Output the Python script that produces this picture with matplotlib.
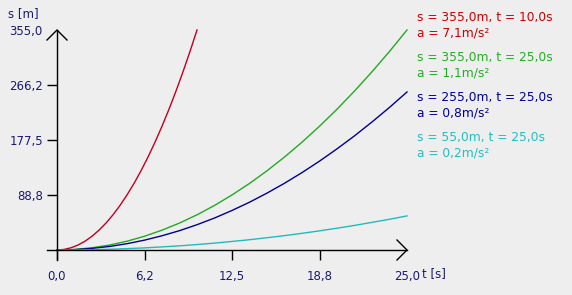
import matplotlib.pyplot as plt

# values (t in s, s in m)
t_red = [0, 0.5, 1, 1.5, 2, 2.5, 3, 3.5, 4, 4.5, 5, 5.5, 6, 6.5, 7, 7.5, 8, 8.5, 9, 9.5, 10]
s_red = [0, 0.9, 3.6, 8, 14.2, 22.2, 32, 43.5, 56.8, 71.9, 88.8, 107.4, 127.8, 150, 174,
         199.7, 227.2, 256.5, 287.6, 320.4, 355]
t_long = [0, 1.25, 2.5, 3.75, 5, 6.25, 7.5, 8.75, 10, 11.25, 12.5, 13.75, 15, 16.25, 17.5,
          18.75, 20, 21.25, 22.5, 23.75, 25]
s_green = [0, 0.9, 3.6, 8, 14.2, 22.2, 32, 43.5, 56.8, 71.9, 88.8, 107.4, 127.8, 150, 174,
           199.7, 227.2, 256.5, 287.6, 320.4, 355]
s_blue = [0, 0.6, 2.6, 5.7, 10.2, 15.9, 23, 31.2, 40.8, 51.6, 63.8, 77.1, 91.8, 107.7, 124.9,
          143.4, 163.2, 184.2, 206.6, 230.1, 255]
s_cyan = [0, 0.1, 0.6, 1.2, 2.2, 3.4, 5, 6.7, 8.8, 11.1, 13.8, 16.6, 19.8, 23.2, 26.9,
          30.9, 35.2, 39.7, 44.6, 49.6, 55]

xticks = [0, 6.25, 12.5, 18.75, 25]
xlabels = ["0,0", "6,2", "12,5", "18,8", "25,0"]
yticks = [88.75, 177.5, 266.25, 355]
ylabels = ["88,8", "177,5", "266,2", "355,0"]

legend = [
    ("s = 355,0m, t = 10,0s", "a = 7,1m/s²", "#cc0000"),
    ("s = 355,0m, t = 25,0s", "a = 1,1m/s²", "#22b022"),
    ("s = 255,0m, t = 25,0s", "a = 0,8m/s²", "#000099"),
    ("s = 55,0m, t = 25,0s", "a = 0,2m/s²", "#22c0c0"),
]

bg = "#eeeeee"
navy = "#1a1a70"

fig = plt.figure(figsize=(5.72, 2.95), dpi=100, facecolor=bg)
ax = fig.add_axes([57 / 572, 45 / 295, 350 / 572, 220 / 295], facecolor=bg)

ax.plot(t_red, s_red, color="#c00020", lw=1, clip_on=False)
ax.plot(t_long, s_green, color="#22aa22", lw=1, clip_on=False)
ax.plot(t_long, s_blue, color="#000090", lw=1, clip_on=False)
ax.plot(t_long, s_cyan, color="#22bbbb", lw=1, clip_on=False)

ax.set_xlim(0, 25)
ax.set_ylim(0, 355)
for sp in ["top", "right"]:
    ax.spines[sp].set_visible(False)
for sp in ["left", "bottom"]:
    ax.spines[sp].set_linewidth(1)
    ax.spines[sp].set_color("black")

ax.set_xticks(xticks)
ax.set_xticklabels(xlabels)
ax.set_yticks(yticks)
ax.set_yticklabels(ylabels)
ax.tick_params(axis="x", direction="out", length=7.2, width=1, pad=7, labelsize=8.5, labelcolor=navy)
ax.tick_params(axis="y", direction="out", length=7.2, width=1, pad=3, labelsize=8.5, labelcolor=navy)
# hide tick marks under the arrow heads
ax.xaxis.get_major_ticks()[-1].tick1line.set_visible(False)
ax.yaxis.get_major_ticks()[-1].tick1line.set_visible(False)
# the axis lines reach past the origin
ax.plot([0, 0], [0, -16.1], color="black", lw=1, clip_on=False)
ax.plot([-0.714, 0], [0, 0], color="black", lw=1, clip_on=False)

# open arrow heads
dx = 10 / 14
dy = 10 * 355 / 220
ax.plot([25 - dx, 25, 25 - dx], [-dy, 0, dy], color="black", lw=1, clip_on=False)
ax.plot([-dx, 0, dx], [355 - dy, 355, 355 - dy], color="black", lw=1, clip_on=False)

fig.text(8 / 572, 1 - 14 / 295, "s [m]", color=navy, fontsize=8.5, va="center")
fig.text(422 / 572, 1 - 274 / 295, "t [s]", color=navy, fontsize=8.5, va="center")

y0 = 18
for i, (l1, l2, c) in enumerate(legend):
    y = y0 + i * 40
    fig.text(417 / 572, 1 - y / 295, l1, color=c, fontsize=8.8, va="center")
    fig.text(417 / 572, 1 - (y + 15) / 295, l2, color=c, fontsize=8.8, va="center")

fig.savefig("out.png", dpi=100, facecolor=bg)
